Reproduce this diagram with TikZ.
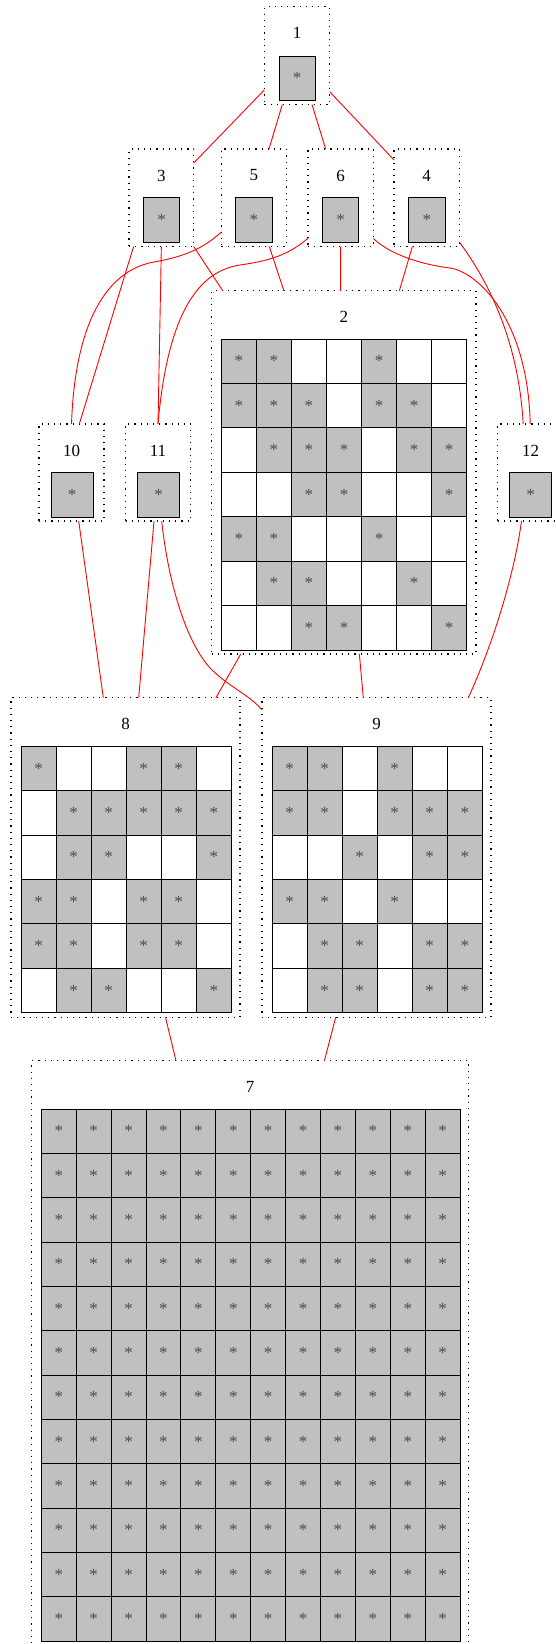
\documentclass[tikz,border=0pt]{standalone}
\usepackage{fontspec}
\setmainfont{Liberation Serif}
\usepackage{tikz}
\usetikzlibrary{calc}
\definecolor{silver}{HTML}{C0C0C0}

\begin{document}
\begin{tikzpicture}[x=1pt,y=-1pt,font=\fontsize{17}{20}\selectfont,
  clus/.style={draw,line width=1.2pt,dash pattern=on 1.2pt off 5pt,inner sep=0pt,outer sep=0pt},
  tit/.style={inner sep=0pt},
  cell/.style={draw,line width=.9pt,inner sep=0pt,outer sep=0pt,minimum width=35pt,minimum height=44.4pt},
  gcell/.style={cell,fill=silver,text=black!70},
  wcell/.style={cell,fill=white},
  lnk/.style={red,line width=.9pt}]
      \useasboundingbox (0,0) rectangle (555,1644);
      \clip (0,0) rectangle (555,1644);

      % clusters
      \node[clus,minimum width=65.4pt,minimum height=97.8pt] (c1) at (297,55.6) {};
      \node[tit] (t1) at (297,33.2) {1};
      \node[gcell,minimum width=36.3pt] (s1) at (297.2,78.2) {*};

      \node[clus,minimum width=64.7pt,minimum height=97.5pt] (c3) at (161.35,197.75) {};
      \node[tit] (t3) at (161.35,175.5) {3};
      \node[gcell,minimum width=36.3pt] (s3) at (161.65,220) {*};
      \node[clus,minimum width=65pt,minimum height=97.5pt] (c5) at (253.8,197.75) {};
      \node[tit] (t5) at (253.8,175.5) {5};
      \node[gcell,minimum width=36.3pt] (s5) at (253.85,220) {*};
      \node[clus,minimum width=65.3pt,minimum height=97.5pt] (c6) at (340.65,197.75) {};
      \node[tit] (t6) at (340.65,175.5) {6};
      \node[gcell,minimum width=36.3pt] (s6) at (340.5,220) {*};
      \node[clus,minimum width=65.3pt,minimum height=97.5pt] (c4) at (426.65,197.75) {};
      \node[tit] (t4) at (426.65,175.5) {4};
      \node[gcell,minimum width=36.3pt] (s4) at (426.85,220) {*};

      \node[clus,minimum width=65pt,minimum height=97pt] (c10) at (71.5,472.5) {};
      \node[tit] (t10) at (71.5,450.5) {10};
      \node[gcell,minimum width=42.3pt] (s10) at (72.2,494.85) {*};
      \node[clus,minimum width=65pt,minimum height=97pt] (c11) at (158,472.5) {};
      \node[tit] (t11) at (158,450.5) {11};
      \node[gcell,minimum width=42.3pt] (s11) at (158.5,494.85) {*};
      \node[clus,minimum width=65pt,minimum height=97pt] (c12) at (530.2,472.5) {};
      \node[tit] (t12) at (530.5,450.5) {12};
      \node[gcell,minimum width=42.3pt] (s12) at (530.5,494.85) {*};

      \node[clus,minimum width=264.3pt,minimum height=363.3pt] (c2) at (343.85,472.35) {};
      \node[tit] (t2) at (343.85,317) {2};
      \node[clus,minimum width=229pt,minimum height=319.6pt] (c8) at (125.5,857.5) {};
      \node[tit] (t8) at (125.5,723.8) {8};
      \node[clus,minimum width=229pt,minimum height=319.6pt] (c9) at (376.5,857.5) {};
      \node[tit] (t9) at (376.5,723.8) {9};
      \node[clus,minimum width=436.8pt,minimum height=584.9pt] (c7) at (250.2,1353.2) {};
      \node[tit] (t7) at (250.2,1087) {7};

      % grids
      \foreach \row [count=\r] in {{1,1,0,0,1,0,0},{1,1,1,0,1,1,0},{0,1,1,1,0,1,1},{0,0,1,1,0,0,1},
                                   {1,1,0,0,1,0,0},{0,1,1,0,0,1,0},{0,0,1,1,0,0,1}}
        \foreach \v [count=\c] in \row {
          \ifnum\v=1
            \node[gcell] (g2-\r-\c) at ({221.3+(\c-.5)*35.06},{339+(\r-.5)*44.43}) {*};
          \else
            \node[wcell] (g2-\r-\c) at ({221.3+(\c-.5)*35.06},{339+(\r-.5)*44.43}) {};
          \fi
        }
      \foreach \row [count=\r] in {{1,0,0,1,1,0},{0,1,1,1,1,1},{0,1,1,0,0,1},
                                   {1,1,0,1,1,0},{1,1,0,1,1,0},{0,1,1,0,0,1}}
        \foreach \v [count=\c] in \row {
          \ifnum\v=1
            \node[gcell] (g8-\r-\c) at ({21+(\c-.5)*35.05},{746.3+(\r-.5)*44.4}) {*};
          \else
            \node[wcell] (g8-\r-\c) at ({21+(\c-.5)*35.05},{746.3+(\r-.5)*44.4}) {};
          \fi
        }
      \foreach \row [count=\r] in {{1,1,0,1,0,0},{1,1,0,1,1,1},{0,0,1,0,1,1},
                                   {1,1,0,1,0,0},{0,1,1,0,1,1},{0,1,1,0,1,1}}
        \foreach \v [count=\c] in \row {
          \ifnum\v=1
            \node[gcell] (g9-\r-\c) at ({272+(\c-.5)*35.05},{746.3+(\r-.5)*44.4}) {*};
          \else
            \node[wcell] (g9-\r-\c) at ({272+(\c-.5)*35.05},{746.3+(\r-.5)*44.4}) {};
          \fi
        }
      \foreach \r in {1,...,12}
        \foreach \c in {1,...,12}
          \node[gcell] (g7-\r-\c) at ({41.3+(\c-.5)*34.9},{1109+(\r-.5)*44.33}) {*};

      % edges
      \draw[lnk] ($(c1.north west)+(0,83.3)$) -- ($(c3.north east)+(0,14)$);
      \draw[lnk] ($(c1.south)+(-14.7,0)$) -- ($(c5.north)+(15.2,0)$);
      \draw[lnk] ($(c1.south)+(15,0)$) -- ($(c6.north)+(-15,0)$);
      \draw[lnk] ($(c1.north east)+(0,85)$) -- ($(c4.north west)+(0,11)$);

      \draw[lnk] ($(c3.south)+(-27.75,0)$) -- ($(c10.north)+(7.8,0)$);
      \draw[lnk] ($(c5.north west)+(0,83)$) .. controls +(-21.3,20) and +(22,-4) .. ($(c10.north)+(82.5,-162)$)
                 .. controls +(-40,7) and +(4,-114) .. (c10.north);
      \draw[lnk] (c3.south) -- (c11.north);
      \draw[lnk] ($(c6.north west)+(0,89.3)$) .. controls +(-23,19.7) and +(22,-3.3) .. ($(c11.north)+(82,-159)$)
                 .. controls +(-40,6) and +(10,-114) .. (c11.north);
      \draw[lnk] (c3.south east) -- ($(c2.north west)+(11,0)$);
      \draw[lnk] ($(c5.south)+(15.5,0)$) -- ($(c2.north)+(-60,0)$);
      \draw[lnk] (c6.south) -- ($(c2.north)+(-3.2,0)$);
      \draw[lnk] ($(c4.south)+(-14.3,0)$) -- ($(c2.north)+(55.5,0)$);
      \draw[lnk] ($(c6.north east)+(0,89.5)$) .. controls +(18.7,17.5) and +(-25,-3) .. ($(c12.north)+(-80.2,-156)$)
                 .. controls +(28,4) and +(-2.2,-104) .. (c12.north);
      \draw[lnk] ($(c4.north east)+(0,93)$) .. controls +(20.7,28) and +(-5.2,-94) .. ($(c12.north)+(-7,0)$);

      \draw[lnk] ($(c10.south)+(7.2,0)$) -- ($(c8.north)+(-22.2,0)$);
      \draw[lnk] ($(c11.south)+(-4,0)$) -- ($(c8.north)+(13.2,0)$);
      \draw[lnk] ($(c11.south)+(3.7,0)$) .. controls +(6.3,59) and +(-25,-28) .. ($(c9.north west)+(-52,-29.7)$)
                 .. controls +(20,20) and +(-12,-15) .. ($(c9.north west)+(0,12.3)$);
      \draw[lnk] ($(c2.south west)+(29,0)$) -- ($(c8.north east)+(-24,0)$);
      \draw[lnk] ($(c2.south)+(15.5,0)$) -- ($(c9.north)+(-13.2,0)$);
      \draw[lnk] ($(c12.south)+(-8.7,0)$) .. controls +(-6.5,49) and +(26.7,-58.3) .. ($(c9.north)+(91.8,0)$);

      \draw[lnk] ($(c8.south)+(40,0)$) -- ($(c7.north)+(-74.2,0)$);
      \draw[lnk] ($(c9.south)+(-40.8,0)$) -- ($(c7.north)+(74.2,0)$);
\end{tikzpicture}
\end{document}
